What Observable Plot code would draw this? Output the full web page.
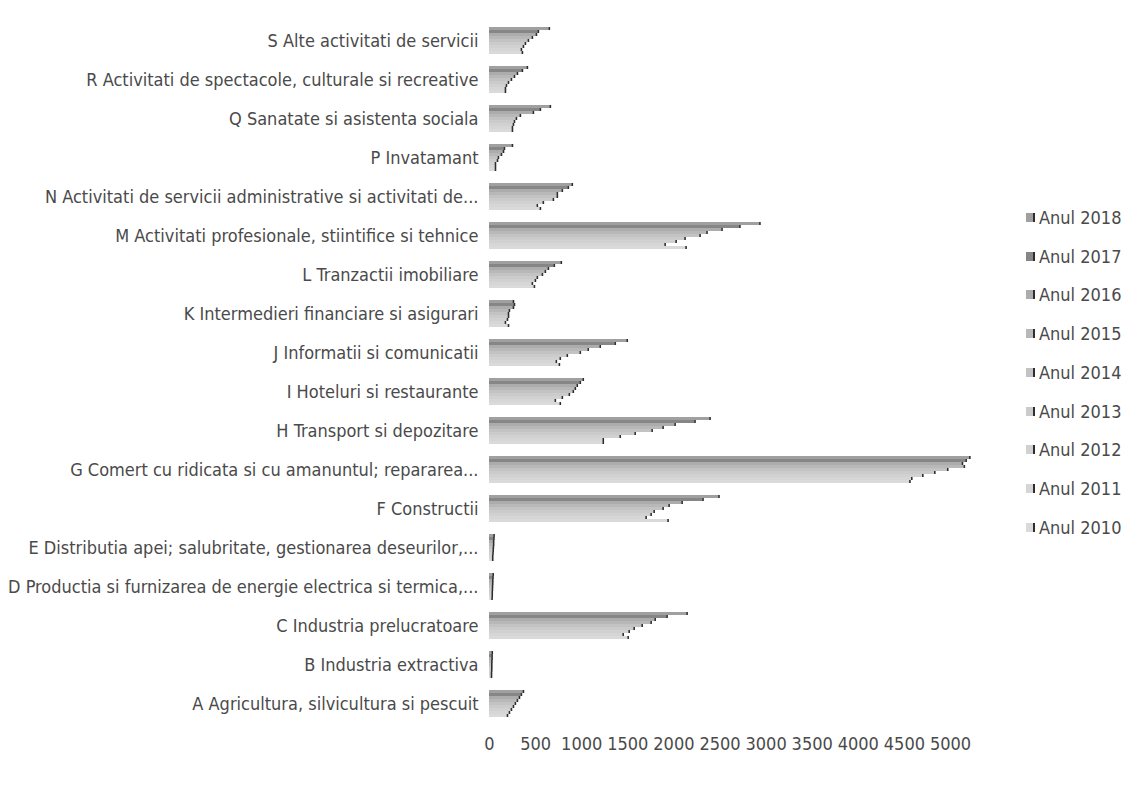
<!DOCTYPE html>
<html>
<head>
<meta charset="utf-8">
<script src="https://cdn.jsdelivr.net/npm/d3@7"></script>
<script src="https://cdn.jsdelivr.net/npm/@observablehq/plot@0.6"></script>
<style>
  html, body { margin: 0; padding: 0; background: #ffffff; }
  #wrap { position: relative; width: 1143px; height: 785px; overflow: hidden; }
  #legend { position: absolute; left: 1026px; top: 198px; color: #4a4a4a; }
  .item { display: flex; align-items: center; height: 38.75px; white-space: nowrap; }
  .sw { width: 7px; height: 9px; margin-right: 4px; }
</style>
</head>
<body>
<div id="wrap"><div id="chart"></div><div id="legend"></div></div>
<script>
// Categories (bottom to top as in the source data)
const categories = [
  "A Agricultura, silvicultura si pescuit",
  "B Industria extractiva",
  "C Industria prelucratoare",
  "D Productia si furnizarea de energie electrica si termica,...",
  "E Distributia apei; salubritate, gestionarea deseurilor,...",
  "F Constructii",
  "G Comert cu ridicata si cu amanuntul; repararea...",
  "H Transport si depozitare",
  "I Hoteluri si restaurante",
  "J Informatii si comunicatii",
  "K Intermedieri financiare si asigurari",
  "L Tranzactii imobiliare",
  "M Activitati profesionale, stiintifice si tehnice",
  "N Activitati de servicii administrative si activitati de...",
  "P Invatamant",
  "Q Sanatate si asistenta sociala",
  "R Activitati de spectacole, culturale si recreative",
  "S Alte activitati de servicii"
];

const years = ["Anul 2018","Anul 2017","Anul 2016","Anul 2015","Anul 2014","Anul 2013","Anul 2012","Anul 2011","Anul 2010"];

// Series values, in category order A..S
const v2018 = [368, 30, 2143, 40, 50, 2489, 5210, 2392, 1017, 1494, 260, 779, 2933, 898, 249, 660, 411, 649];
const v2017 = [346, 28, 1926, 38, 48, 2316, 5170, 2229,  985, 1364, 271, 703, 2716, 855, 162, 552, 357, 530];
const v2016 = [325, 28, 1797, 36, 45, 2089, 5130, 2013,  952, 1201, 260, 639, 2522, 790, 152, 476, 303, 509];
const v2015 = [303, 26, 1753, 35, 45, 1948, 5150, 1883,  931, 1071, 216, 606, 2359, 736, 130, 335, 271, 465];
const v2014 = [281, 25, 1656, 33, 42, 1883, 4970, 1764,  909,  985, 206, 574, 2284, 736,  97, 292, 238, 422];
const v2013 = [260, 25, 1569, 32, 40, 1786, 4830, 1580,  866,  844, 206, 519, 2121, 693,  87, 271, 206, 390];
const v2012 = [238, 24, 1515, 30, 38, 1753, 4700, 1418,  790,  768, 195, 498, 2024, 584,  65, 260, 184, 368];
const v2011 = [216, 22, 1450, 30, 35, 1699, 4580, 1234,  714,  725, 173, 465, 1905, 519,  65, 249, 173, 346];
const v2010 = [195, 22, 1504, 28, 35, 1937, 4560, 1234,  768,  758, 206, 487, 2132, 552,  65, 249, 173, 357];

const xTicks = [0, 500, 1000, 1500, 2000, 2500, 3000, 3500, 4000, 4500, 5000];

const series = [v2018, v2017, v2016, v2015, v2014, v2013, v2012, v2011, v2010];
const rows = categories.flatMap((c, i) => years.map((y, j) => ({category: c, year: y, value: series[j][i]})));

const greys = ["#a0a0a0", "#868686", "#acacac", "#b8b8b8", "#c3c3c3", "#cbcbcb", "#d1d1d1", "#d6d6d6", "#dadada"];

// pick a narrow sans font that is installed
const ctx = document.createElement("canvas").getContext("2d");
function measure(font, s) { ctx.font = font; return ctx.measureText(s).width; }
const probe = "abcdefghijklmnopqrstuvwxyz ABCDEFG";
let family = '"Liberation Sans", Arial, sans-serif';
for (const f of ['"Liberation Sans Narrow"', '"Arial Narrow"', '"DejaVu Sans Condensed"']) {
  if (measure(`100px ${f}, monospace`, probe) !== measure("100px monospace", probe)) { family = `${f}, "Liberation Sans", sans-serif`; break; }
}
const refW = measure(`100px ${family}`, "M Activitati profesionale, stiintifice si tehrice");
const fs = Math.max(12, Math.min(19, 360 / (refW / 100)));

const chart = Plot.plot({
  width: 1143,
  height: 785,
  marginLeft: 489,
  marginRight: 193,
  marginTop: 18,
  marginBottom: 59,
  style: {fontFamily: family, fontSize: fs + "px", color: "#4a4a4a", background: "#ffffff"},
  x: {domain: [0, 5000], ticks: xTicks, tickSize: 0, tickPadding: 17, label: null, tickFormat: d => String(d)},
  y: {domain: years, axis: null, padding: 0.06},
  fy: {domain: categories.slice().reverse(), padding: 0.15, tickSize: 0, tickPadding: 11, label: null, axis: "left"},
  color: {domain: years, range: greys},
  marks: [
    Plot.barX(rows, {x: "value", y: "year", fy: "category", fill: "year"}),
    Plot.tickX(rows, {x: "value", y: "year", fy: "category", stroke: "#2e2e2e", strokeWidth: 1.6})
  ]
});
document.getElementById("chart").appendChild(chart);

const legend = document.getElementById("legend");
legend.style.fontFamily = family;
legend.style.fontSize = fs + "px";
years.forEach((y, j) => {
  const it = document.createElement("div");
  it.className = "item";
  const sw = document.createElement("span");
  sw.className = "sw";
  sw.style.background = greys[j];
  sw.style.borderRight = "2px solid #2e2e2e";
  it.appendChild(sw);
  it.appendChild(document.createTextNode(y));
  legend.appendChild(it);
});
</script>
</body>
</html>
